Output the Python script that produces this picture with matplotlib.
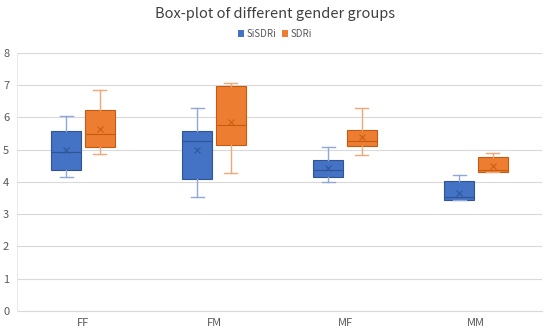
import matplotlib
matplotlib.use("Agg")
import matplotlib.pyplot as plt
from matplotlib.patches import Patch

categories = ["FF", "FM", "MF", "MM"]
series = ["SiSDRi", "SDRi"]

sisdri_whislo = [4.15, 3.54, 3.98, 3.43]
sisdri_q1     = [4.37, 4.08, 4.16, 3.43]
sisdri_med    = [4.92, 5.27, 4.37, 3.52]
sisdri_q3     = [5.59, 5.59, 4.67, 4.03]
sisdri_whishi = [6.04, 6.28, 5.09, 4.20]
sisdri_mean   = [5.00, 5.00, 4.42, 3.65]

sdri_whislo = [4.85, 4.28, 4.84, 4.32]
sdri_q1     = [5.08, 5.14, 5.12, 4.32]
sdri_med    = [5.49, 5.76, 5.26, 4.36]
sdri_q3     = [6.22, 6.98, 5.62, 4.76]
sdri_whishi = [6.84, 7.05, 6.29, 4.88]
sdri_mean   = [5.64, 5.86, 5.40, 4.50]

yticks = [0, 1, 2, 3, 4, 5, 6, 7, 8]

plt.rcParams['font.family'] = ['Noto Sans CJK SC', 'DejaVu Sans']

fig = plt.figure(figsize=(5.5, 3.32), dpi=100)
ax = fig.add_axes([17.5/550, 1-311/332, 524/550, 258.3/332])

def stats(lo, q1, med, q3, hi, mean):
    return [dict(whislo=a, q1=b, med=c, q3=d, whishi=e, mean=f, fliers=[])
            for a, b, c, d, e, f in zip(lo, q1, med, q3, hi, mean)]

width = 0.229
offset = 0.127
specs = [
    (stats(sisdri_whislo, sisdri_q1, sisdri_med, sisdri_q3, sisdri_whishi, sisdri_mean),
     "#4472C4", "#2F5597", "#8FA8D8", -offset),
    (stats(sdri_whislo, sdri_q1, sdri_med, sdri_q3, sdri_whishi, sdri_mean),
     "#ED7D31", "#C55A11", "#F0A878", offset),
]
for st, fc, ec, wc, off in specs:
    pos = [i + off for i in range(len(categories))]
    ax.bxp(st, positions=pos, widths=width, patch_artist=True, showmeans=True,
           showfliers=False, manage_ticks=False,
           boxprops=dict(facecolor=fc, edgecolor=ec, linewidth=0.8),
           medianprops=dict(color=ec, linewidth=0.8),
           whiskerprops=dict(color=wc, linewidth=1.0),
           capprops=dict(color=wc, linewidth=1.0),
           capwidths=width*0.45,
           meanprops=dict(marker='x', markeredgecolor=ec, markersize=4, markeredgewidth=0.7))

ax.set_xlim(-0.5, len(categories) - 0.5)
ax.set_ylim(0, 8)
ax.set_yticks(yticks)
ax.set_xticks(range(len(categories)))
ax.set_xticklabels(categories)
ax.yaxis.grid(True, color="#D9D9D9", linewidth=0.8)
ax.set_axisbelow(True)
for s in ["top", "right"]:
    ax.spines[s].set_visible(False)
ax.spines["bottom"].set_color("#D9D9D9")
ax.spines["left"].set_color("#E6E6E6")
ax.spines["left"].set_linewidth(0.6)
ax.tick_params(axis='both', length=0, labelsize=8, colors="#595959")
ax.tick_params(axis='y', pad=6)
ax.tick_params(axis='x', pad=5)

fig.text(0.5, 1-14/332, "Box-plot of different gender groups", ha='center', va='center',
         fontsize=10.5, color="#404040")
handles = [Patch(facecolor="#4472C4", label="SiSDRi"), Patch(facecolor="#ED7D31", label="SDRi")]
fig.legend(handles=handles, loc='center', bbox_to_anchor=(0.5, 1-34/332), ncol=2,
           frameon=False, fontsize=7, handlelength=0.6, handleheight=0.6,
           handletextpad=0.3, columnspacing=0.6, labelcolor="#595959")

fig.savefig("out.png", dpi=100)
